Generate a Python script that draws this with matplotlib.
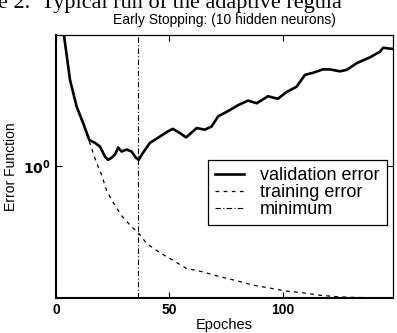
import matplotlib
matplotlib.use("Agg")
import matplotlib.pyplot as plt
from matplotlib.ticker import FixedLocator, NullLocator

plt.rcParams['font.family'] = ['Liberation Sans', 'DejaVu Sans']

# validation error
val_epoch = [0, 2, 3.5, 6.2, 9.1, 12.0, 14.7, 17.2, 19.4, 21.6, 23.0, 24.5, 26.0,
             27.4, 28.9, 31.1, 33.3, 35.2, 36.4, 38.4, 41.4, 45.8, 49.3, 51.5,
             54.6, 57.3, 62.0, 65.6, 68.6, 71.4, 76.7, 80.2, 84.6, 88.5, 93.4,
             96.5, 97.8, 101.6, 106.0, 109.7, 113.2, 117.6, 120.7, 125.1, 128.1,
             132.5, 138.3, 142.7, 144.2, 146.3, 148.5]
val_err = [5.0, 3.8, 3.16, 2.13, 1.69, 1.46, 1.26, 1.23, 1.19, 1.09, 1.06, 1.08,
           1.11, 1.18, 1.14, 1.16, 1.14, 1.08, 1.06, 1.13, 1.23, 1.30, 1.36,
           1.39, 1.34, 1.29, 1.40, 1.38, 1.42, 1.55, 1.64, 1.71, 1.78, 1.74,
           1.85, 1.82, 1.81, 1.92, 2.01, 2.23, 2.27, 2.34, 2.34, 2.30, 2.33,
           2.47, 2.60, 2.73, 2.83, 2.81, 2.80]

# training error
tr_epoch = [0, 2, 3.5, 6.2, 9.1, 12.0, 14.7, 17.9, 20.1, 22.3, 25.2, 28.9, 33.3,
            36.3, 39.9, 45.8, 51.5, 57.4, 64.5, 72.2, 79.6, 86.8, 94.3, 101.6,
            108.8, 116.3, 123.7, 130.8, 138.3, 145.7, 148.5]
tr_err = [5.0, 3.8, 3.16, 2.13, 1.69, 1.44, 1.24, 1.03, 0.93, 0.81, 0.73, 0.65,
          0.59, 0.56, 0.51, 0.47, 0.44, 0.41, 0.398, 0.381, 0.368, 0.354, 0.345,
          0.336, 0.331, 0.324, 0.320, 0.318, 0.317, 0.317, 0.317]

min_epoch = 36

fig = plt.figure(figsize=(3.97, 3.33), dpi=100)
ax = fig.add_axes([0.141, 0.105, 0.849, 0.790])

ax.plot(val_epoch, val_err, color='black', lw=1.9, label='validation error')
ax.plot(tr_epoch, tr_err, color='black', lw=0.9, dashes=(3, 3.5),
        label='training error')
ax.axvline(min_epoch, color='black', lw=0.8, dashes=(5, 2, 1, 2),
           label='minimum')

ax.set_yscale('log')
ax.set_xlim(0, 148.5)
ax.set_ylim(10 ** -0.5, 10 ** 0.5)
ax.set_xticks([0, 50, 100])
ax.set_xticklabels(['0', '50', '100'], fontweight='bold', fontsize=10)
ax.yaxis.set_major_locator(FixedLocator([1.0]))
ax.set_yticklabels([r'$\mathbf{10^0}$'], fontsize=10)
ax.yaxis.set_minor_locator(NullLocator())
ax.tick_params(which='both', direction='in', top=True, right=True)
ax.tick_params(which='major', length=4, width=0.8)
for s in ax.spines.values():
    s.set_linewidth(0.9)
ax.spines['left'].set_linewidth(1.5)
ax.spines['bottom'].set_linewidth(1.5)

ax.set_xlabel('Epoches', fontsize=10.5, labelpad=1)
ax.set_ylabel('Error Function', fontsize=10, labelpad=4)
ax.set_title('Early Stopping: (10 hidden neurons)', fontsize=10, pad=8)

leg = ax.legend(loc='upper left', bbox_to_anchor=(0.501, 0.547),
                bbox_transform=fig.transFigure, fontsize=13, labelspacing=0.0,
                handlelength=1.6, handletextpad=0.9, borderpad=0.4,
                fancybox=False, framealpha=1, edgecolor='black')
leg.get_frame().set_linewidth(0.9)

# caption of the scanned page, cut off at the top edge as in the scan
fig.text(-0.005, 1 - 8 / 333, 'e 2.  Typical run of the adaptive regula',
         family='Liberation Serif', fontsize=16, ha='left', va='baseline')

fig.savefig('out.png', dpi=100)
